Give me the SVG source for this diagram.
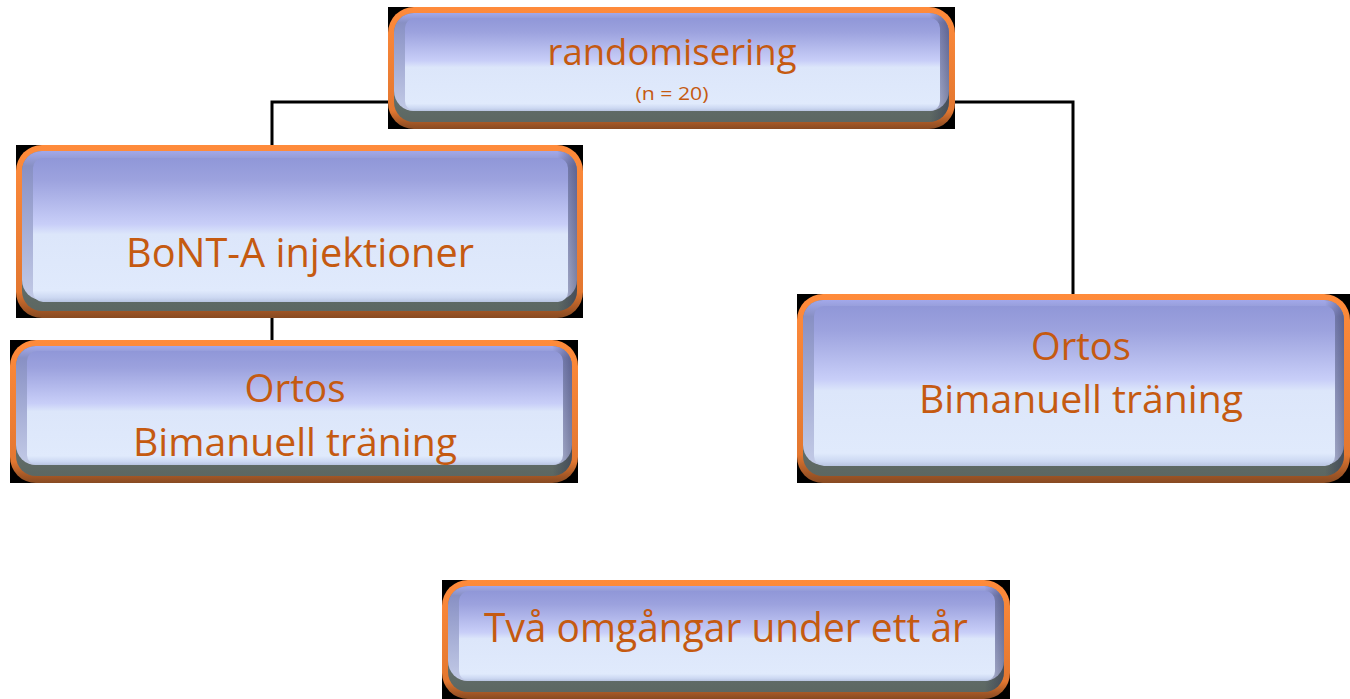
<svg xmlns="http://www.w3.org/2000/svg" width="1350" height="699" viewBox="0 0 1350 699">
  <defs>
    <!-- orange rim: bright top, brown bottom -->
    <linearGradient id="rim" x1="0" y1="0" x2="0" y2="1">
      <stop offset="0" stop-color="#FF8B3B"/>
      <stop offset="0.85" stop-color="#E37730"/>
      <stop offset="0.95" stop-color="#A35726"/>
      <stop offset="1" stop-color="#874A22"/>
    </linearGradient>
    <!-- bottom bevel (dark grey) -->
    <linearGradient id="bevelBottom" x1="0" y1="0" x2="0" y2="1">
      <stop offset="0" stop-color="#7A8686"/>
      <stop offset="1" stop-color="#5C6762"/>
    </linearGradient>
    <!-- side bevels -->
    <linearGradient id="bevelSide" x1="0" y1="0" x2="0" y2="1">
      <stop offset="0" stop-color="#A2A8EA"/>
      <stop offset="0.1" stop-color="#8890C4"/>
      <stop offset="0.6" stop-color="#AAB2D8"/>
      <stop offset="1" stop-color="#C2CAE6"/>
    </linearGradient>
    <!-- darker right-hand bevel -->
    <linearGradient id="bevelShade" x1="0" y1="0" x2="1" y2="0">
      <stop offset="0" stop-color="#1E2046" stop-opacity="0"/>
      <stop offset="0.965" stop-color="#1E2046" stop-opacity="0"/>
      <stop offset="1" stop-color="#1E2046" stop-opacity="0.4"/>
    </linearGradient>
    <!-- glossy face -->
    <linearGradient id="face" x1="0" y1="0" x2="0" y2="1">
      <stop offset="0" stop-color="#9097D8"/>
      <stop offset="0.15" stop-color="#9CA2DE"/>
      <stop offset="0.46" stop-color="#C8CEF8"/>
      <stop offset="0.53" stop-color="#DCE6FA"/>
      <stop offset="0.92" stop-color="#E0EAFC"/>
      <stop offset="0.97" stop-color="#CCD8F2"/>
      <stop offset="1" stop-color="#B8C4E0"/>
    </linearGradient>
  </defs>
  <style>
    .back { fill: #000000; }
    .rim { fill: url(#rim); }
    .bevel { fill: url(#bevelBottom); }
    .side { fill: url(#bevelSide); }
    .shade { fill: url(#bevelShade); }
    .face { fill: url(#face); }
    .label { font-family: "Open Sans", "Noto Sans", "Liberation Sans", sans-serif; fill: #C55A11; text-anchor: middle; }
    .conn { fill: none; stroke: #000000; stroke-width: 3; }
  </style>

  <rect width="1350" height="699" fill="#FFFFFF"/>

  <!-- connectors -->
  <g id="connectors" class="conn">
    <path d="M388,102 H272 V145"/>
    <path d="M955,102 H1073 V294"/>
    <path d="M272,318 V340"/>
  </g>

  <!-- randomisering -->
  <g id="node-randomisering">
    <rect class="back" x="388" y="7" width="567" height="122"/>
    <rect class="rim" x="388" y="7" width="567" height="122" rx="26"/>
    <rect class="bevel" x="394" y="13" width="555" height="109" rx="20"/>
    <rect class="side" x="394" y="13" width="555" height="98" rx="20"/>
    <rect class="shade" x="394" y="13" width="555" height="109" rx="20"/>
    <rect class="face" x="405" y="18" width="535" height="93" rx="10"/>
    <text class="label" x="672" y="65" font-size="36" textLength="249" lengthAdjust="spacingAndGlyphs">randomisering</text>
    <text class="label" x="672" y="100" font-size="18" textLength="73" lengthAdjust="spacingAndGlyphs">(n = 20)</text>
  </g>

  <!-- BoNT-A -->
  <g id="node-bont">
    <rect class="back" x="16" y="145" width="567" height="173"/>
    <rect class="rim" x="16" y="145" width="567" height="173" rx="26"/>
    <rect class="bevel" x="22" y="151" width="555" height="160" rx="20"/>
    <rect class="side" x="22" y="151" width="555" height="149" rx="20"/>
    <rect class="shade" x="22" y="151" width="555" height="160" rx="20"/>
    <rect class="face" x="33" y="158" width="535" height="144" rx="10"/>
    <text class="label" x="300" y="267" font-size="40" textLength="348" lengthAdjust="spacingAndGlyphs">BoNT-A injektioner</text>
  </g>

  <!-- Ortos, left branch -->
  <g id="node-ortos-left">
    <rect class="back" x="10" y="340" width="568" height="143"/>
    <rect class="rim" x="10" y="340" width="568" height="143" rx="26"/>
    <rect class="bevel" x="16" y="346" width="556" height="130" rx="20"/>
    <rect class="side" x="16" y="346" width="556" height="119" rx="20"/>
    <rect class="shade" x="16" y="346" width="556" height="130" rx="20"/>
    <rect class="face" x="27" y="351" width="536" height="114" rx="10"/>
    <text class="label" x="295" y="402" font-size="38" textLength="101" lengthAdjust="spacingAndGlyphs">Ortos</text>
    <text class="label" x="295" y="456" font-size="38" textLength="324" lengthAdjust="spacingAndGlyphs">Bimanuell träning</text>
  </g>

  <!-- Ortos, right branch -->
  <g id="node-ortos-right">
    <rect class="back" x="797" y="294" width="553" height="189"/>
    <rect class="rim" x="797" y="294" width="553" height="189" rx="26"/>
    <rect class="bevel" x="803" y="300" width="541" height="176" rx="20"/>
    <rect class="side" x="803" y="300" width="541" height="165" rx="20"/>
    <rect class="shade" x="803" y="300" width="541" height="176" rx="20"/>
    <rect class="face" x="814" y="306" width="521" height="160" rx="10"/>
    <text class="label" x="1081" y="360" font-size="38" textLength="100" lengthAdjust="spacingAndGlyphs">Ortos</text>
    <text class="label" x="1081" y="413" font-size="38" textLength="324" lengthAdjust="spacingAndGlyphs">Bimanuell träning</text>
  </g>

  <!-- Två omgångar -->
  <g id="node-tva">
    <rect class="back" x="442" y="580" width="568" height="119"/>
    <rect class="rim" x="442" y="580" width="568" height="119" rx="26"/>
    <rect class="bevel" x="448" y="586" width="556" height="106" rx="20"/>
    <rect class="side" x="448" y="586" width="556" height="95" rx="20"/>
    <rect class="shade" x="448" y="586" width="556" height="106" rx="20"/>
    <rect class="face" x="459" y="591" width="536" height="90" rx="10"/>
    <text class="label" x="726" y="642" font-size="40" textLength="484" lengthAdjust="spacingAndGlyphs">Två omgångar under ett år</text>
  </g>
</svg>
